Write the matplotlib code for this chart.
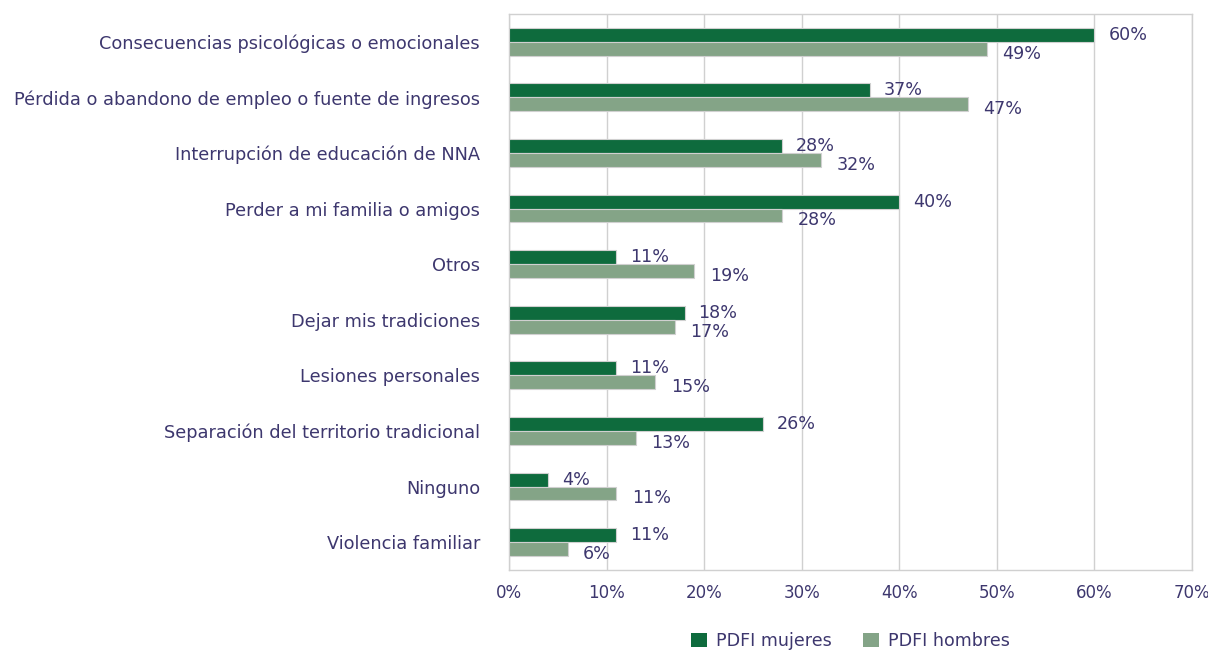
import numpy as np
import matplotlib.pyplot as plt

# datos
categorias = [
    "Consecuencias psicológicas o emocionales",
    "Pérdida o abandono de empleo o fuente de ingresos",
    "Interrupción de educación de NNA",
    "Perder a mi familia o amigos",
    "Otros",
    "Dejar mis tradiciones",
    "Lesiones personales",
    "Separación del territorio tradicional",
    "Ninguno",
    "Violencia familiar",
]
mujeres = [60, 37, 28, 40, 11, 18, 11, 26, 4, 11]
hombres = [49, 47, 32, 28, 19, 17, 15, 13, 11, 6]
series = ["PDFI mujeres", "PDFI hombres"]

verde_oscuro = "#0e6b3d"
verde_claro = "#84a487"
texto = "#3d376e"
gris = "#d0d0d0"
fs = 12.8

plt.rcParams['font.family'] = ['DejaVu Sans']

fig = plt.figure(figsize=(12.08, 6.5), dpi=100)
ax = fig.add_axes([0.4214, 0.1231, 0.5654, 0.8554])

y = np.arange(len(categorias))
h = 0.25

b1 = ax.barh(y - h / 2, mujeres, height=h, color=verde_oscuro,
             edgecolor=gris, linewidth=0.8, label=series[0], zorder=3)
b2 = ax.barh(y + h / 2, hombres, height=h, color=verde_claro,
             edgecolor=gris, linewidth=0.8, label=series[1], zorder=3)

# etiquetas de valor
for rect, v in zip(b1, mujeres):
    ax.annotate(f"{v}%", (rect.get_width(), rect.get_y() + rect.get_height() / 2),
                xytext=(10, 0), textcoords="offset points",
                va="center", ha="left", fontsize=12.6, color=texto)
for rect, v in zip(b2, hombres):
    ax.annotate(f"{v}%", (rect.get_width(), rect.get_y() + rect.get_height() / 2),
                xytext=(11, -3.5), textcoords="offset points",
                va="center", ha="left", fontsize=12.6, color=texto)

ax.set_xlim(0, 70)
ax.set_ylim(len(categorias) - 0.5, -0.5)
ax.set_xticks(np.arange(0, 71, 10))
ax.set_xticklabels([f"{t}%" for t in range(0, 71, 10)])
ax.set_yticks(y)
ax.set_yticklabels(categorias)

ax.tick_params(axis="y", length=0, pad=21, labelsize=fs, labelcolor=texto)
ax.tick_params(axis="x", length=0, pad=10, labelsize=12, labelcolor=texto)

ax.grid(axis="x", color=gris, linewidth=1, zorder=0)
for s in ax.spines.values():
    s.set_color(gris)
    s.set_linewidth(1)

leg = ax.legend(loc="upper center", bbox_to_anchor=(0.5, -0.083), ncol=2,
                frameon=False, fontsize=12.6, handlelength=0.9, handleheight=0.9,
                columnspacing=1.8, handletextpad=0.5)
for t in leg.get_texts():
    t.set_color(texto)
for p in leg.legend_handles:
    p.set_edgecolor("none")

fig.savefig("out.png", dpi=100)
